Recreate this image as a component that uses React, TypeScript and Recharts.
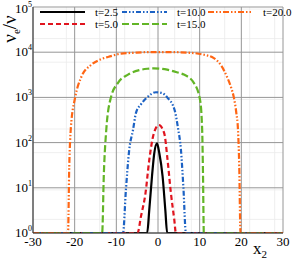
import React from 'react';
import { LineChart, Line, XAxis, YAxis, CartesianGrid } from 'recharts';

// x2 positions and nu_e/nu values, one pair of arrays per time
const x25 = [-30, -2.6, -2.1, -1.44, -0.9, -0.24, 0.32, 1.1, 1.76, 2.2, 30];
const v25 = [1, 1, 3.2, 18, 58, 96, 58, 18, 3.2, 1, 1];

const x50 = [-30, -4.9, -4.1, -3.0, -2.1, -1.0, 0.2, 1.5, 2.3, 3.1, 3.9, 4.3, 30];
const v50 = [1, 1, 2.3, 7.6, 41, 160, 245, 160, 41, 7.6, 2, 1, 1];

const x100 = [-30, -8.4, -7.7, -6.9, -6.0, -5.3, -4.1, -2.6, -0.5, 1.0, 2.2, 4.0, 4.8, 5.5, 6.1, 6.7, 30];
const v100 = [1, 1, 9, 70, 190, 450, 700, 1000, 1300, 1250, 1000, 520, 210, 70, 10, 1, 1];

const x150 = [-30, -13.4, -13.0, -12.4, -11.3, -9.6, -7.2, -4.5, -2.6, -1, 2.2, 4.5, 6.2, 8.6, 10.1, 10.6, 10.8, 11.0, 30];
const v150 = [1, 1, 20, 200, 1000, 2100, 3200, 4000, 4300, 4400, 4100, 3600, 3200, 2100, 870, 190, 20, 1, 1];

const x200 = [-30, -21.6, -21.3, -20.9, -19.9, -18.5, -16.1, -13.7, -11.3, -8.9, -5.8, -2.6, 0, 4, 7.7, 10.5, 13.4, 15.2, 16.6, 17.6, 18.2, 18.8, 19.2, 19.5, 19.8, 30];
const v200 = [1, 1, 30, 220, 980, 2700, 5200, 7000, 8200, 9300, 9700, 10000, 10000, 10000, 9700, 9000, 7400, 5000, 2800, 1600, 1000, 450, 190, 30, 1, 1];

const xTicks = [-30, -20, -10, 0, 10, 20, 30];
const yTicks = [1, 10, 100, 1000, 10000, 100000];
const xMinor = [-28, -26, -24, -22, -18, -16, -14, -12, -8, -6, -4, -2, 2, 4, 6, 8, 12, 14, 16, 18, 22, 24, 26, 28];
const yMinor = [1, 10, 100, 1000, 10000].flatMap(d => [2, 3, 4, 5, 6, 7, 8, 9].map(m => m * d));

const zip = (xs: number[], vs: number[]) => xs.map((x, i) => ({ x, v: vs[i] }));

const series = [
  { name: 't=2.5', data: zip(x25, v25), color: '#000000', dash: undefined as string | undefined },
  { name: 't=5.0', data: zip(x50, v50), color: '#e0141e', dash: '5 3' },
  { name: 't=10.0', data: zip(x100, v100), color: '#1c62c4', dash: '5 2 1.5 2 1.5 2' },
  { name: 't=15.0', data: zip(x150, v150), color: '#62b526', dash: '7 3' },
  { name: 't=20.0', data: zip(x200, v200), color: '#ff6614', dash: '6 2 1.5 2 1.5 2' },
];

// legend slots: [series index, left x, row y]
const legendSlots: [number, number, number][] = [
  [0, 40, 12], [2, 122, 12], [4, 208, 12],
  [1, 40, 24], [3, 122, 24],
];

const serif = '"Liberation Serif", "DejaVu Serif", serif';

const YTick = ({ x, y, payload }: any) => {
  const e = Math.round(Math.log10(payload.value));
  return (
    <text x={x} y={y + 4} textAnchor="end" fontFamily={serif} fontSize={13} fill="#000">
      <tspan>10</tspan>
      <tspan dy={-6} fontSize={8}>{e}</tspan>
    </text>
  );
};

export default function App() {
  return (
    <div style={{ position: 'absolute', left: 0, top: 0, width: 292, height: 260, background: '#fff' }}>
      <LineChart width={292} height={260} margin={{ top: 7, right: 9, bottom: 0, left: 0 }}>
        <CartesianGrid stroke="#ebebeb" strokeWidth={0.8} verticalValues={xMinor} horizontalValues={yMinor} />
        <CartesianGrid stroke="#969696" strokeWidth={1} verticalValues={xTicks} horizontalValues={yTicks} />
        <XAxis
          type="number"
          dataKey="x"
          domain={[-30, 30]}
          ticks={xTicks}
          tickSize={0}
          tickMargin={4}
          height={27}
          axisLine={{ stroke: '#333' }}
          tick={{ fontFamily: serif, fontSize: 13, fill: '#000' }}
          allowDuplicatedCategory={false}
        />
        <YAxis
          type="number"
          scale="log"
          domain={[1, 100000]}
          ticks={yTicks}
          allowDataOverflow
          width={33}
          tickSize={0}
          tickMargin={1}
          axisLine={{ stroke: '#333' }}
          tick={<YTick />}
        />
        {series.map(s => (
          <Line
            key={s.name}
            data={s.data}
            dataKey="v"
            type="monotone"
            stroke={s.color}
            strokeWidth={2.2}
            strokeDasharray={s.dash}
            dot={false}
            isAnimationActive={false}
          />
        ))}
      </LineChart>
      <svg width={292} height={260} style={{ position: 'absolute', left: 0, top: 0, pointerEvents: 'none' }}>
        {legendSlots.map(([i, lx, ly]) => (
          <g key={series[i].name}>
            <line x1={lx} x2={lx + 45} y1={ly} y2={ly} stroke={series[i].color} strokeWidth={2.2} strokeDasharray={series[i].dash} />
            <text x={lx + 55} y={ly + 4} fontFamily={serif} fontSize={11} fill="#000">{series[i].name}</text>
          </g>
        ))}
        <text transform="translate(16,29) rotate(-90)" textAnchor="middle" fontFamily={serif} fontSize={19} fill="#000">
          <tspan>ν</tspan>
          <tspan dy={4} fontSize={11}>e</tspan>
          <tspan dy={-4}>/ν</tspan>
        </text>
        <text x={253} y={254} fontFamily={serif} fontSize={17} fill="#000">
          <tspan>x</tspan>
          <tspan dy={4} fontSize={11}>2</tspan>
        </text>
      </svg>
    </div>
  );
}
